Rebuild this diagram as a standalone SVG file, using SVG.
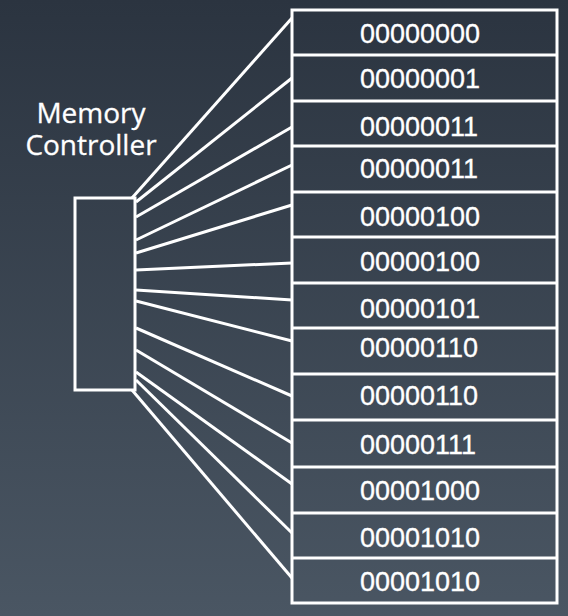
<svg xmlns="http://www.w3.org/2000/svg" width="568" height="616" viewBox="0 0 568 616">
  <defs>
    <linearGradient id="bg" x1="0" y1="0" x2="0" y2="1">
      <stop offset="0" stop-color="#2b3440"/>
      <stop offset="1" stop-color="#4a5663"/>
    </linearGradient>
    <style>
      .box { fill: none; stroke: #ffffff; stroke-width: 3; }
      .div { stroke: #ffffff; stroke-width: 3; }
      .wire { stroke: #ffffff; stroke-width: 3; fill: none; stroke-linecap: butt; }
      .val { font-family: "Liberation Sans", Arial, sans-serif; font-size: 27px; fill: #ffffff; stroke: #ffffff; stroke-width: 0.3; }
      .lbl { font-family: "Open Sans", "Noto Sans", sans-serif; font-size: 28px; fill: #ffffff; stroke: #ffffff; stroke-width: 0.3; text-anchor: middle; }
    </style>
  </defs>
  <rect x="0" y="0" width="568" height="616" fill="url(#bg)"/>

  <g id="connectors">
    <line class="wire" x1="132" y1="198" x2="292" y2="18"/>
    <line class="wire" x1="136" y1="202" x2="292" y2="78"/>
    <line class="wire" x1="136" y1="217" x2="292" y2="127"/>
    <line class="wire" x1="136" y1="240" x2="292" y2="165"/>
    <line class="wire" x1="136" y1="253" x2="292" y2="205"/>
    <line class="wire" x1="136" y1="270" x2="292" y2="263"/>
    <line class="wire" x1="136" y1="290" x2="292" y2="300"/>
    <line class="wire" x1="136" y1="301" x2="292" y2="341"/>
    <line class="wire" x1="136" y1="328" x2="292" y2="396"/>
    <line class="wire" x1="136" y1="350" x2="292" y2="443"/>
    <line class="wire" x1="136" y1="372" x2="292" y2="484"/>
    <line class="wire" x1="136" y1="380" x2="292" y2="533"/>
    <line class="wire" x1="132" y1="390" x2="292" y2="578"/>
  </g>

  <g id="memory-controller">
    <rect class="box" x="75" y="198" width="60" height="192"/>
    <text class="lbl" x="91" y="123">Memory</text>
    <text class="lbl" x="91" y="155">Controller</text>
  </g>

  <g id="memory">
    <rect class="box" x="292" y="10" width="265" height="593"/>
    <line class="div" x1="292" y1="55" x2="557" y2="55"/>
    <line class="div" x1="292" y1="101" x2="557" y2="101"/>
    <line class="div" x1="292" y1="146" x2="557" y2="146"/>
    <line class="div" x1="292" y1="192" x2="557" y2="192"/>
    <line class="div" x1="292" y1="237" x2="557" y2="237"/>
    <line class="div" x1="292" y1="283" x2="557" y2="283"/>
    <line class="div" x1="292" y1="328" x2="557" y2="328"/>
    <line class="div" x1="292" y1="374" x2="557" y2="374"/>
    <line class="div" x1="292" y1="420" x2="557" y2="420"/>
    <line class="div" x1="292" y1="467" x2="557" y2="467"/>
    <line class="div" x1="292" y1="513" x2="557" y2="513"/>
    <line class="div" x1="292" y1="558" x2="557" y2="558"/>
  </g>
  <g id="cell-0"><text class="val" x="360" y="43">00000000</text></g>
  <g id="cell-1"><text class="val" x="360" y="88">00000001</text></g>
  <g id="cell-2"><text class="val" x="360" y="136">00000011</text></g>
  <g id="cell-3"><text class="val" x="360" y="178">00000011</text></g>
  <g id="cell-4"><text class="val" x="360" y="226">00000100</text></g>
  <g id="cell-5"><text class="val" x="360" y="271">00000100</text></g>
  <g id="cell-6"><text class="val" x="360" y="318">00000101</text></g>
  <g id="cell-7"><text class="val" x="360" y="357">00000110</text></g>
  <g id="cell-8"><text class="val" x="360" y="405">00000110</text></g>
  <g id="cell-9"><text class="val" x="360" y="454">00000111</text></g>
  <g id="cell-10"><text class="val" x="360" y="500">00001000</text></g>
  <g id="cell-11"><text class="val" x="360" y="547">00001010</text></g>
  <g id="cell-12"><text class="val" x="360" y="591">00001010</text></g>
</svg>
